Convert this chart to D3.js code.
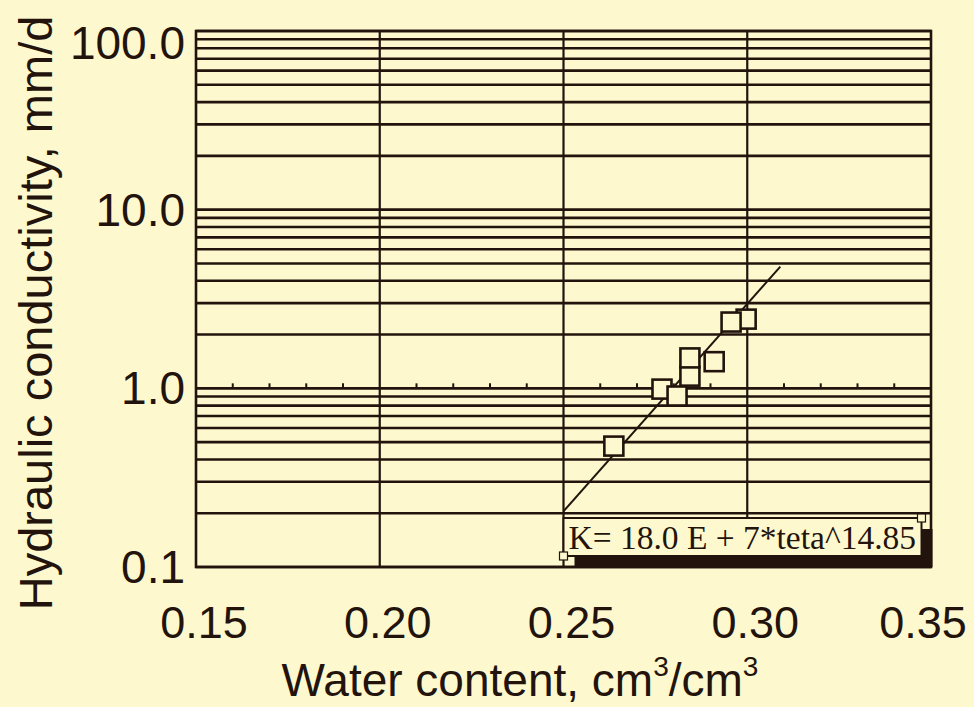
<!DOCTYPE html>
<html><head><meta charset="utf-8">
<script src="https://cdn.jsdelivr.net/npm/d3@7"></script>
<style>
html,body{margin:0;padding:0;background:#fef8cf;}
svg{display:block;}
</style></head>
<body><svg id="c" width="974" height="707"></svg>
<script>
// ---- data ----
const waterContent = [0.2637, 0.2768, 0.2809, 0.2844, 0.2844, 0.2910, 0.2997, 0.2956];
const conductivity = [0.475, 0.99, 0.906, 1.17, 1.48, 1.41, 2.44, 2.35];
const fitTheta = [0.25, 0.309];
const fitK = [0.205, 4.8];
const xTicks = [0.15, 0.20, 0.25, 0.30, 0.35];
const xTickLabels = ["0.15", "0.20", "0.25", "0.30", "0.35"];
const yTicks = [0.1, 1, 10, 100];
const yTickLabels = ["0.1", "1.0", "10.0", "100.0"];
const xMinorOnOne = [0.16,0.17,0.18,0.19,0.21,0.22,0.23,0.24,0.26,0.27,0.28,0.29,0.31,0.32,0.33,0.34];
const equationText = "K= 18.0 E + 7*teta^14.85";

const ink = "#22140c";
const paper = "#fef8cf";
const svg = d3.select("#c");
const L = 196, R = 931, T = 31, B = 567;
const x = d3.scaleLinear().domain([0.15, 0.35]).range([L, R]);
const y = d3.scaleLog().domain([0.1, 100]).range([B, T]);

// horizontal grid (log minor)
const hLines = [];
[0.1, 1, 10].forEach(d => { for (let k = 1; k <= 9; k++) hLines.push(d * k); });
hLines.push(100);
svg.append("g").selectAll("line").data(hLines).join("line")
  .attr("x1", L).attr("x2", R)
  .attr("y1", d => y(d)).attr("y2", d => y(d))
  .attr("stroke", ink).attr("stroke-width", 2.6);

// vertical grid
svg.append("g").selectAll("line").data(xTicks.slice(1, -1)).join("line")
  .attr("x1", d => x(d)).attr("x2", d => x(d))
  .attr("y1", T).attr("y2", B)
  .attr("stroke", ink).attr("stroke-width", 2.2);

// small ticks on the 1.0 line
svg.append("g").selectAll("line").data(xMinorOnOne).join("line")
  .attr("x1", d => x(d)).attr("x2", d => x(d))
  .attr("y1", y(1)).attr("y2", y(1) - 5)
  .attr("stroke", ink).attr("stroke-width", 2);

// frame
svg.append("rect").attr("x", L).attr("y", T).attr("width", R - L).attr("height", B - T)
  .attr("fill", "none").attr("stroke", ink).attr("stroke-width", 2.6);

// equation box with shadow
const bx = x(0.25), by = 518, bw = 358, bh = 38, sh = 11;
svg.append("rect").attr("x", bx + sh).attr("y", by + sh).attr("width", bw).attr("height", bh)
  .attr("fill", ink);
svg.append("rect").attr("x", bx).attr("y", by).attr("width", bw).attr("height", bh)
  .attr("fill", paper).attr("stroke", ink).attr("stroke-width", 2);
svg.append("text").attr("x", bx + 5).attr("y", by + 31)
  .attr("font-family", "'Liberation Serif','Times New Roman',serif").attr("font-size", 33.5)
  .attr("fill", ink).text(equationText);
// corner handles
[[bx, by + bh], [bx + bw, by]].forEach(p => {
  svg.append("rect").attr("x", p[0] - 4).attr("y", p[1] - 4).attr("width", 8).attr("height", 8)
    .attr("fill", paper).attr("stroke", ink).attr("stroke-width", 1.2);
});

// fit line
svg.append("path")
  .datum(fitTheta.map((t, i) => [t, fitK[i]]))
  .attr("d", d3.line().x(d => x(d[0])).y(d => y(d[1])))
  .attr("fill", "none").attr("stroke", ink).attr("stroke-width", 2);

// points
const pts = waterContent.map((t, i) => [t, conductivity[i]]);
svg.append("g").selectAll("rect").data(pts).join("rect")
  .attr("x", d => x(d[0]) - 9.5).attr("y", d => y(d[1]) - 9.5)
  .attr("width", 19).attr("height", 19)
  .attr("fill", paper).attr("stroke", ink).attr("stroke-width", 2.6);

// tick labels
const font = "'Liberation Sans', Arial, sans-serif";
svg.append("g").selectAll("text").data(xTicks).join("text")
  .attr("x", d => Math.min(x(d) + 8, 923)).attr("y", 638)
  .attr("text-anchor", "middle").attr("font-family", font).attr("font-size", 45)
  .attr("fill", ink).text((d, i) => xTickLabels[i]);
svg.append("g").selectAll("text").data(yTicks).join("text")
  .attr("x", 185).attr("y", d => y(d) + 16 + (d === 100 ? 12 : 0))
  .attr("text-anchor", "end").attr("font-family", font).attr("font-size", 46)
  .attr("fill", ink).text((d, i) => yTickLabels[i]);

// axis titles
const xt = svg.append("text").attr("x", 520).attr("y", 696)
  .attr("text-anchor", "middle").attr("font-family", font).attr("font-size", 46).attr("fill", ink);
xt.append("tspan").text("Water content, cm");
xt.append("tspan").attr("dy", -20).attr("font-size", 28).text("3");
xt.append("tspan").attr("dy", 20).text("/cm");
xt.append("tspan").attr("dy", -20).attr("font-size", 28).text("3");

svg.append("text").attr("transform", "translate(52,313) rotate(-90)")
  .attr("text-anchor", "middle").attr("font-family", font).attr("font-size", 47)
  .attr("fill", ink).text("Hydraulic conductivity, mm/d");
</script></body></html>
